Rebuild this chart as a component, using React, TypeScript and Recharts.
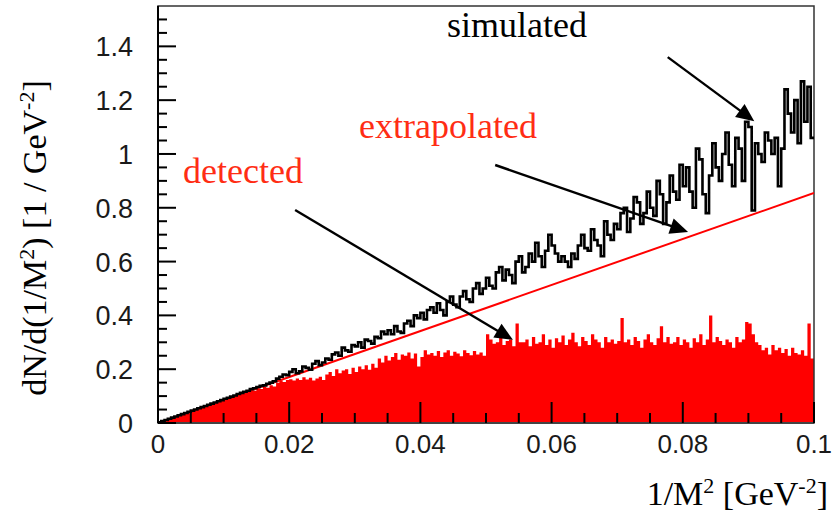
import React from 'react';
import { ComposedChart, Area, Line, XAxis, YAxis, ReferenceLine, ReferenceArea } from 'recharts';

// histogram range (1/M^2 in GeV^-2)
const X_MIN = 0;
const X_MAX = 0.1;
const Y_MAX = 1.55;

// simulated histogram contents, 200 bins from 0 to 0.1
const simulated = [
  0.003, 0.007, 0.011, 0.016, 0.02, 0.024, 0.029, 0.033, 0.037, 0.042,
  0.046, 0.05, 0.055, 0.059, 0.063, 0.068, 0.072, 0.076, 0.081, 0.085,
  0.09, 0.094, 0.098, 0.102, 0.108, 0.112, 0.116, 0.12, 0.126, 0.129,
  0.134, 0.138, 0.14, 0.146, 0.15, 0.155,
  0.165, 0.172, 0.18, 0.178, 0.19, 0.2, 0.185, 0.192, 0.21, 0.205, 0.198, 0.22, 0.23, 0.215, 0.225,
  0.24, 0.235, 0.255, 0.262, 0.25, 0.28, 0.27, 0.265, 0.29, 0.285, 0.3, 0.28, 0.31, 0.305, 0.295, 0.32,
  0.315, 0.34, 0.33, 0.345, 0.33, 0.36, 0.34, 0.335, 0.37, 0.38, 0.36, 0.4, 0.39, 0.41,
  0.385, 0.42, 0.43, 0.41, 0.445, 0.42, 0.4, 0.45, 0.47, 0.44, 0.43, 0.47, 0.49, 0.46, 0.45, 0.5, 0.52, 0.48, 0.5,
  0.54, 0.51, 0.5, 0.56, 0.58, 0.53, 0.57, 0.55, 0.52, 0.6, 0.62, 0.56, 0.58, 0.63, 0.6, 0.67, 0.62, 0.58, 0.64, 0.7,
  0.66, 0.63, 0.6, 0.62, 0.6, 0.58, 0.63, 0.61, 0.66, 0.7, 0.65, 0.64, 0.72, 0.68, 0.66, 0.62, 0.75, 0.7, 0.68, 0.74,
  0.72, 0.78, 0.8, 0.71, 0.76, 0.84, 0.82, 0.74, 0.78, 0.86, 0.8, 0.77, 0.9, 0.85, 0.74, 0.82, 0.92, 0.86, 0.83, 0.96,
  0.88, 0.95, 0.86, 0.8, 1.02, 0.98, 0.85, 0.78, 0.92, 1.04, 0.95, 0.9, 1.0, 1.08, 0.96, 0.88, 1.06, 1.02, 0.9, 1.12,
  1.1, 0.79, 1.04, 1.0, 0.97, 1.08, 1.05, 1.0, 1.06, 0.88, 1.02, 1.24, 1.15, 1.08, 1.2, 1.04, 1.27, 1.12, 1.25, 1.06,
];

// detected histogram contents, 200 bins from 0 to 0.1
const detected = [
  0.002, 0.006, 0.011, 0.015, 0.019, 0.024, 0.028, 0.032, 0.036, 0.041,
  0.045, 0.049, 0.053, 0.058, 0.062, 0.066, 0.07, 0.075, 0.079, 0.083,
  0.087, 0.092, 0.096, 0.1, 0.104, 0.109, 0.113, 0.117, 0.121, 0.12,
  0.128, 0.126, 0.134, 0.131, 0.14, 0.136,
  0.15, 0.158, 0.152, 0.16, 0.163, 0.158, 0.165, 0.16, 0.17, 0.162, 0.168, 0.158, 0.165, 0.172, 0.16,
  0.18, 0.19, 0.175, 0.2, 0.185, 0.195, 0.2, 0.182, 0.205, 0.19, 0.21, 0.2, 0.215, 0.198, 0.22, 0.205,
  0.24, 0.225, 0.25, 0.232, 0.245, 0.26, 0.235, 0.255, 0.25, 0.262, 0.24, 0.258, 0.21, 0.245,
  0.27, 0.255, 0.26, 0.25, 0.268, 0.245, 0.262, 0.27, 0.25, 0.265, 0.258, 0.248, 0.27, 0.26, 0.252, 0.268, 0.255, 0.262, 0.25,
  0.33, 0.31, 0.295, 0.3, 0.32, 0.29, 0.305, 0.31, 0.285, 0.37, 0.3,
  0.3, 0.31, 0.285, 0.32, 0.295, 0.3, 0.33, 0.29, 0.31, 0.28,
  0.315, 0.3, 0.325, 0.29, 0.31, 0.335, 0.3, 0.285, 0.32, 0.305,
  0.29, 0.33, 0.31, 0.3, 0.28, 0.32, 0.3, 0.31, 0.295, 0.305,
  0.39,
  0.3, 0.31, 0.29, 0.32, 0.305, 0.28, 0.31, 0.33, 0.3, 0.29, 0.315, 0.36, 0.3, 0.32, 0.295,
  0.3, 0.32, 0.29, 0.31, 0.3, 0.28, 0.315, 0.3, 0.33, 0.29,
  0.31, 0.4, 0.3, 0.32, 0.305, 0.29, 0.31, 0.3, 0.28, 0.32,
  0.3, 0.31, 0.375, 0.37, 0.33, 0.3, 0.29, 0.27, 0.28, 0.255,
  0.29, 0.27, 0.28, 0.26, 0.275, 0.25, 0.28, 0.26, 0.255, 0.27,
  0.25, 0.37, 0.24,
];

// extrapolated straight line: value at X_MIN and at X_MAX
const extrapolatedEnds = [0, 0.855];

// axis ticks
const xTicks = [0, 0.005, 0.01, 0.015, 0.02, 0.025, 0.03, 0.035, 0.04, 0.045, 0.05, 0.055, 0.06, 0.065, 0.07, 0.075, 0.08, 0.085, 0.09, 0.095, 0.1];
const xMajor = [0, 0.02, 0.04, 0.06, 0.08, 0.1];
const xMajorLabels = ['0', '0.02', '0.04', '0.06', '0.08', '0.1'];
const yTicks = [0, 0.05, 0.1, 0.15, 0.2, 0.25, 0.3, 0.35, 0.4, 0.45, 0.5, 0.55, 0.6, 0.65, 0.7, 0.75, 0.8, 0.85, 0.9, 0.95, 1, 1.05, 1.1, 1.15, 1.2, 1.25, 1.3, 1.35, 1.4, 1.45, 1.5];
const yMajor = [0, 0.2, 0.4, 0.6, 0.8, 1, 1.2, 1.4];
const yMajorLabels = ['0', '0.2', '0.4', '0.6', '0.8', '1', '1.2', '1.4'];

// annotation arrows (data coordinates): start -> tip
const arrows = [
  { from: [0.0777, 1.36], to: [0.0909, 1.122] },
  { from: [0.0514, 0.959], to: [0.0808, 0.71] },
  { from: [0.0209, 0.792], to: [0.0541, 0.309] },
];

const nBins = simulated.length;
const binWidth = (X_MAX - X_MIN) / nBins;
const data = Array.from({ length: nBins + 1 }, (_, i) => {
  const k = Math.min(i, nBins - 1);
  return {
    x: X_MIN + i * binWidth,
    sim: simulated[k],
    det: detected[k],
    ext: i === 0 ? extrapolatedEnds[0] : i === nBins ? extrapolatedEnds[1] : null,
  };
});

const findIndex = (arr: number[], v: number) => arr.findIndex((m) => Math.abs(m - v) < 1e-9);

const TICK_FONT = '"Liberation Sans", Arial, sans-serif';
const SERIF = '"Liberation Serif", "Times New Roman", serif';
const RED_TEXT = '#ff2d14';

const XTick = (props: any) => {
  const { x, y, payload } = props;
  const idx = findIndex(xMajor, payload.value);
  const major = idx >= 0;
  return (
    <g>
      <line x1={x} y1={y} x2={x} y2={y - (major ? 21 : 10)} stroke="#000" strokeWidth={2} />
      {major && (
        <text x={x} y={y + 30} textAnchor="middle" fontSize={26} fontFamily={TICK_FONT} fill="#1a1a1a">
          {xMajorLabels[idx]}
        </text>
      )}
    </g>
  );
};

const YTick = (props: any) => {
  const { x, y, payload } = props;
  const idx = findIndex(yMajor, payload.value);
  const major = idx >= 0;
  return (
    <g>
      <line x1={x} y1={y} x2={x + (major ? 18 : 9)} y2={y} stroke="#000" strokeWidth={2} />
      {major && (
        <text x={x - 25} y={y + 10} textAnchor="end" fontSize={27} fontFamily={TICK_FONT} fill="#1a1a1a">
          {yMajorLabels[idx]}
        </text>
      )}
    </g>
  );
};

const ArrowShape = (props: any) => {
  const { x1, y1, x2, y2 } = props;
  const dx = x2 - x1;
  const dy = y2 - y1;
  const len = Math.hypot(dx, dy) || 1;
  const ux = dx / len;
  const uy = dy / len;
  const headL = 18;
  const headW = 8;
  const bx = x2 - ux * headL;
  const by = y2 - uy * headL;
  const px = -uy;
  const py = ux;
  return (
    <g>
      <line x1={x1} y1={y1} x2={bx + ux * 2} y2={by + uy * 2} stroke="#000" strokeWidth={2.4} />
      <polygon
        points={`${x2},${y2} ${bx + px * headW},${by + py * headW} ${bx - px * headW},${by - py * headW}`}
        fill="#000"
      />
    </g>
  );
};

export default function App() {
  return (
    <div style={{ position: 'absolute', left: 0, top: 0, width: 839, height: 512, background: '#fff' }}>
      <ComposedChart
        width={839}
        height={512}
        data={data}
        margin={{ top: 6, right: 25, bottom: 0, left: 0 }}
      >
        <XAxis
          dataKey="x"
          type="number"
          domain={[X_MIN, X_MAX]}
          allowDataOverflow
          ticks={xTicks}
          tick={<XTick />}
          tickSize={0}
          tickMargin={0}
          tickLine={false}
          height={89}
          interval={0}
          axisLine={{ stroke: '#444', strokeWidth: 2 }}
        />
        <YAxis
          type="number"
          domain={[0, Y_MAX]}
          allowDataOverflow
          ticks={yTicks}
          tick={<YTick />}
          tickSize={0}
          tickMargin={0}
          tickLine={false}
          width={158}
          interval={0}
          axisLine={{ stroke: '#000', strokeWidth: 2 }}
        />
        <Area
          dataKey="det"
          type="stepAfter"
          fill="#ff0000"
          fillOpacity={1}
          stroke="none"
          dot={false}
          activeDot={false}
          isAnimationActive={false}
        />
        <Line
          dataKey="ext"
          type="linear"
          stroke="#ff0000"
          strokeWidth={2}
          connectNulls
          dot={false}
          activeDot={false}
          isAnimationActive={false}
        />
        <Line
          dataKey="sim"
          type="stepAfter"
          stroke="#000"
          strokeWidth={2.6}
          dot={false}
          activeDot={false}
          isAnimationActive={false}
        />
        <ReferenceArea
          x1={X_MIN}
          x2={X_MAX}
          y1={0}
          y2={Y_MAX}
          fill="none"
          fillOpacity={0}
          stroke="#333"
          strokeWidth={1.5}
        />
        {arrows.map((a, i) => (
          <ReferenceLine
            key={i}
            segment={[
              { x: a.from[0], y: a.from[1] },
              { x: a.to[0], y: a.to[1] },
            ]}
            shape={ArrowShape}
          />
        ))}
      </ComposedChart>
      <svg
        width={839}
        height={512}
        style={{ position: 'absolute', left: 0, top: 0, pointerEvents: 'none' }}
      >
        <text x={447} y={37} fontSize={36} fontFamily={SERIF} fill="#000">simulated</text>
        <text x={359} y={138} fontSize={36} fontFamily={SERIF} fill={RED_TEXT}>extrapolated</text>
        <text x={183} y={183} fontSize={36} fontFamily={SERIF} fill={RED_TEXT}>detected</text>
        <text x={828} y={505} textAnchor="end" fontSize={34} fontFamily={SERIF} fill="#000">
          1/M<tspan dy={-12} fontSize={22}>2</tspan>
          <tspan dy={12}> [GeV</tspan>
          <tspan dy={-12} fontSize={22}>-2</tspan>
          <tspan dy={12}>]</tspan>
        </text>
        <text
          transform="translate(46,238) rotate(-90)"
          textAnchor="middle"
          fontSize={34}
          fontFamily={SERIF}
          fill="#000"
        >
          dN/d(1/M<tspan dy={-12} fontSize={22}>2</tspan>
          <tspan dy={12}>) [1 / GeV</tspan>
          <tspan dy={-12} fontSize={22}>-2</tspan>
          <tspan dy={12}>]</tspan>
        </text>
      </svg>
    </div>
  );
}
